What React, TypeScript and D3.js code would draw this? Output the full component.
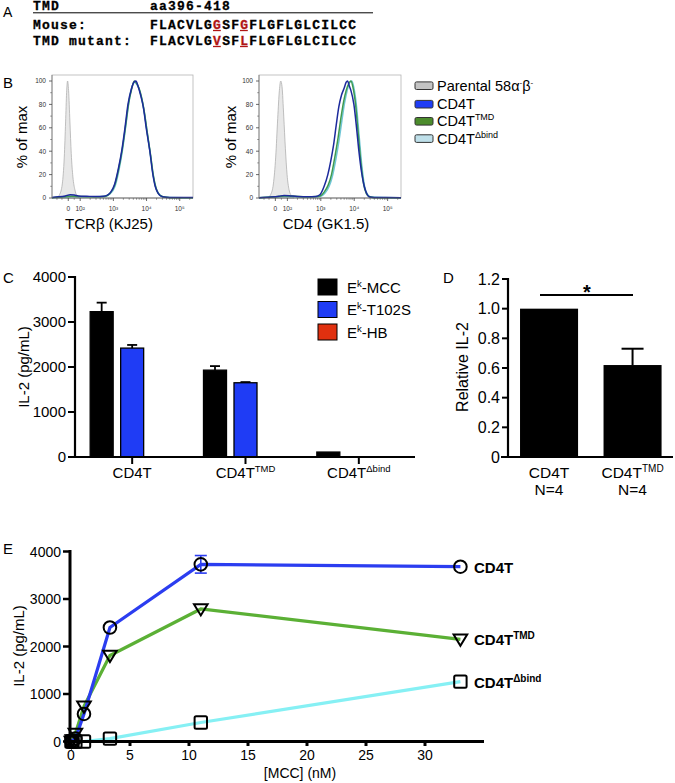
import React from 'react';
import * as d3 from 'd3';

const FONT = "'Liberation Sans', Arial, Helvetica, sans-serif";
const MONO = "'Liberation Mono', 'Courier New', monospace";

// ---------- Panel A data ----------
const seqHeaderLeft = "TMD";
const seqHeaderRight = "aa396-418";
const seqLabels = ["Mouse:", "TMD mutant:"];
const seqStrings = ["FLACVLGGSFGFLGFLGLCILCC", "FLACVLGVSFLFLGFLGLCILCC"];
const mutatedIdx = [7, 10];

// ---------- Panel B data (x in display decades, y in % of max) ----------
const histXTicks = [1.64, 2, 3, 4, 5];
const histXTickLabels = ["0", "10²", "10³", "10⁴", "10⁵"];
const histYTicks = [0, 20, 40, 60, 80, 100];
const tcrParental = [[1.28,0],[1.38,3],[1.46,12],[1.52,35],[1.56,65],[1.59,90],[1.62,100],[1.65,92],[1.69,65],[1.73,38],[1.78,18],[1.84,7],[1.9,2],[1.98,0]];
const tcrBlue = [[1.15,0.5],[1.35,1],[1.55,1.8],[1.7,2.8],[1.82,2.5],[1.95,1.8],[2.2,1.5],[2.5,1.2],[2.7,1.5],[2.82,2.5],[2.92,5],[3.04,12],[3.15,25],[3.25,40],[3.35,60],[3.44,80],[3.54,93],[3.62,99],[3.68,100],[3.74,96],[3.82,88],[3.9,78],[4.0,58],[4.1,40],[4.18,22],[4.26,10],[4.35,4],[4.48,1],[4.7,0.5],[5.4,0.4]];
const tcrGreen = [[1.15,0.3],[1.5,1],[1.75,1.5],[2.0,1.2],[2.4,1],[2.75,1.3],[2.9,4],[3.04,11],[3.16,25],[3.27,42],[3.37,62],[3.46,81],[3.55,93],[3.63,100],[3.7,98],[3.77,94],[3.85,86],[3.93,74],[4.02,56],[4.12,37],[4.2,20],[4.28,9],[4.38,3],[4.5,1],[4.7,0.3],[5.4,0.2]];
const tcrCyan = [[1.15,0.3],[1.5,0.8],[1.8,1.2],[2.2,1],[2.7,1.2],[2.9,3.5],[3.05,10],[3.17,24],[3.28,42],[3.38,63],[3.47,82],[3.56,95],[3.64,99],[3.71,97],[3.79,92],[3.87,83],[3.95,70],[4.04,52],[4.13,34],[4.21,18],[4.29,8],[4.4,2.5],[4.55,0.6],[5.4,0.2]];
const cd4Parental = [[1.4,0],[1.5,3],[1.58,12],[1.65,35],[1.71,68],[1.76,92],[1.8,100],[1.84,95],[1.89,70],[1.94,42],[1.99,20],[2.05,7],[2.12,2],[2.2,0]];
const cd4Blue = [[1.15,0.3],[1.5,0.8],[1.75,1.5],[1.9,2.2],[2.05,2],[2.3,1.2],[2.6,1],[2.85,1.3],[2.98,3],[3.1,10],[3.21,20],[3.3,32],[3.38,45],[3.46,62],[3.54,78],[3.62,88],[3.7,94],[3.76,99],[3.8,100],[3.85,96],[3.9,92],[3.99,80],[4.07,60],[4.14,40],[4.22,22],[4.3,10],[4.37,4],[4.44,1],[4.6,0.5],[5.4,0.3]];
const cd4Green = [[1.15,0.3],[1.6,1],[1.9,1.8],[2.2,1.5],[2.6,1],[2.9,1.2],[3.0,2],[3.1,5],[3.22,11],[3.32,20],[3.42,35],[3.52,52],[3.6,68],[3.68,82],[3.76,92],[3.84,98],[3.9,100],[3.96,95],[4.04,80],[4.12,55],[4.2,30],[4.28,12],[4.36,4],[4.46,1],[4.6,0.3],[5.4,0.2]];
const cd4Cyan = [[1.15,0.2],[1.6,0.8],[1.9,1.2],[2.3,1],[2.7,0.8],[3.0,1.5],[3.12,4],[3.25,10],[3.35,19],[3.45,33],[3.55,50],[3.63,66],[3.71,81],[3.79,92],[3.87,99],[3.93,100],[3.99,94],[4.07,78],[4.15,52],[4.23,27],[4.31,10],[4.4,3],[4.5,0.8],[5.4,0.2]];
const legendBNames = ["Parental 58α", "CD4T", "CD4T", "CD4T"];
const legendBSups = ["", "", "TMD", "Δbind"];
const legendBFill = ["#c4c4c4", "#1f3df5", "#4c8c2c", "#bfe0ea"];

// ---------- Panel C data ----------
const cGroups = ["CD4T", "CD4T", "CD4T"];
const cGroupSups = ["", "TMD", "Δbind"];
const cSeries = ["MCC", "T102S", "HB"];
const cColors = ["#000000", "#1f3cf5", "#e0300f"];
const cMcc = [3230, 1930, 110];
const cMccErr = [200, 90, 0];
const cT102s = [2420, 1650, 0];
const cT102sErr = [70, 15, 0];
const cHb = [0, 6, 0];
const cHbErr = [0, 0, 0];
const cYTicks = [0, 1000, 2000, 3000, 4000];

// ---------- Panel D data ----------
const dGroups = ["CD4T", "CD4T"];
const dGroupSups = ["", "TMD"];
const dN = ["N=4", "N=4"];
const dValues = [1.0, 0.62];
const dErr = [0, 0.11];
const dYTicks = [0, 0.2, 0.4, 0.6, 0.8, 1.0, 1.2];

// ---------- Panel E data ----------
const eConc = [0.04, 0.12, 0.37, 1.1, 3.3, 11, 33];
const eCd4t = [0, 20, 60, 580, 2400, 3730, 3680];
const eCd4tErr = [0, 0, 0, 0, 0, 185, 0];
const eTmd = [0, 30, 170, 740, 1810, 2790, 2150];
const eDbind = [0, 0, 0, 0, 60, 400, 1260];
const eXTicks = [0, 5, 10, 15, 20, 25, 30];
const eYTicks = [0, 1000, 2000, 3000, 4000];

function PanelA() {
  const x0 = 33, seqX = 150, adv = 9, fs = 13;
  const ls = adv - fs * 0.6;
  const rows = [28.5, 44.5];
  const common = { fontFamily: MONO, fontWeight: 'bold', fontSize: fs, letterSpacing: ls, stroke: '#000', strokeWidth: 0.3 } as any;
  return (
    <g>
      <text x={3} y={17} fontSize={14} fontFamily={FONT}>A</text>
      <text x={x0} y={9.5} {...common}>{seqHeaderLeft}</text>
      <text x={seqX} y={9.5} {...common}>{seqHeaderRight}</text>
      <line x1={x0} x2={373} y1={12.8} y2={12.8} stroke="#000" strokeWidth={1} />
      {seqStrings.map((s, r) => (
        <g key={r}>
          <text x={x0} y={rows[r]} {...common}>{seqLabels[r]}</text>
          <text x={seqX} y={rows[r]} {...common}>
            {s.split('').map((ch, i) => (
              <tspan key={i} fill={mutatedIdx.includes(i) ? '#b01515' : '#000'} stroke={mutatedIdx.includes(i) ? '#b01515' : '#000'}>{ch}</tspan>
            ))}
          </text>
          {mutatedIdx.map(i => (
            <line key={i} x1={seqX + i * adv} x2={seqX + i * adv + 7.8} y1={rows[r] + 2} y2={rows[r] + 2} stroke="#b01515" strokeWidth={1.3} />
          ))}
        </g>
      ))}
    </g>
  );
}

function Histogram({ x0, x1, parental, curves, xLabel, xLabelX, yLabelX }: any) {
  const yTop = 75, yBot = 198;
  const x = d3.scaleLinear().domain([1.15, 5.4]).range([x0, x1]);
  const y = d3.scaleLinear().domain([0, 100]).range([198, 81]);
  const area = d3.area<number[]>().x(d => x(d[0])).y0(y(0)).y1(d => y(d[1])).curve(d3.curveMonotoneX);
  const line = d3.line<number[]>().x(d => x(d[0])).y(d => y(d[1])).curve(d3.curveMonotoneX);
  const minorX: number[] = [];
  for (let dec = 2; dec <= 5; dec++) for (let k = 2; k <= 9; k++) {
    const v = dec + Math.log10(k);
    if (v < 5.4) minorX.push(v);
  }
  [1.3, 1.45, 1.82].forEach(v => minorX.push(v));
  const minorY = d3.range(10, 100, 20);
  return (
    <g>
      <rect x={x0} y={yTop} width={x1 - x0} height={yBot - yTop} fill="none" stroke="#b5b5b5" strokeWidth={0.8} />
      <path d={area(parental) || ''} fill="#e8e8e8" stroke="#b0b0b0" strokeWidth={0.8} />
      {curves.map((c: any, i: number) => (
        <path key={i} d={line(c.data) || ''} fill="none" stroke={c.color} strokeWidth={1.5} />
      ))}
      <line x1={x0} x2={x1} y1={yBot} y2={yBot} stroke="#555" strokeWidth={0.8} />
      <line x1={x0} x2={x0} y1={yTop} y2={yBot} stroke="#777" strokeWidth={0.8} />
      {histXTicks.map((t, i) => (
        <g key={i}>
          <line x1={x(t)} x2={x(t)} y1={yBot} y2={yBot + 3} stroke="#444" strokeWidth={0.8} />
          <text x={x(t)} y={211} fontSize={6.5} textAnchor="middle" fill="#333">{histXTickLabels[i]}</text>
        </g>
      ))}
      {minorX.map((t, i) => (
        <line key={'m' + i} x1={x(t)} x2={x(t)} y1={yBot} y2={yBot + 1.8} stroke="#555" strokeWidth={0.6} />
      ))}
      {histYTicks.map((t, i) => (
        <g key={i}>
          <line x1={x0 - 3} x2={x0} y1={y(t)} y2={y(t)} stroke="#444" strokeWidth={0.8} />
          <text x={x0 - 6} y={y(t) + 2.3} fontSize={6.5} textAnchor="end" fill="#333">{t}</text>
        </g>
      ))}
      {minorY.map((t, i) => (
        <line key={'my' + i} x1={x0 - 1.8} x2={x0} y1={y(t)} y2={y(t)} stroke="#555" strokeWidth={0.6} />
      ))}
      <text transform={`translate(${yLabelX},137) rotate(-90)`} fontSize={15} textAnchor="middle">% of max</text>
      <text x={xLabelX} y={229} fontSize={15} textAnchor="middle">{xLabel}</text>
    </g>
  );
}

function PanelB() {
  const lblX = 437, swX = 415;
  const rowsY = [85.7, 104.2, 121.3, 138.6];
  return (
    <g>
      <text x={3} y={88} fontSize={15}>B</text>
      <Histogram x0={52} x1={193} parental={tcrParental} xLabel="TCRβ (KJ25)" xLabelX={109} yLabelX={27}
        curves={[{ data: tcrCyan, color: '#6fc6d6' }, { data: tcrGreen, color: '#3f9a4f' }, { data: tcrBlue, color: '#1c2a9c' }]} />
      <Histogram x0={259} x1={401} parental={cd4Parental} xLabel="CD4 (GK1.5)" xLabelX={326} yLabelX={236}
        curves={[{ data: cd4Cyan, color: '#6fc6d6' }, { data: cd4Green, color: '#3f9a4f' }, { data: cd4Blue, color: '#1c2a9c' }]} />
      {legendBNames.map((n, i) => (
        <g key={i}>
          <rect x={swX} y={rowsY[i] - 3.8} width={18} height={7.6} rx={1.5} fill={legendBFill[i]} stroke="#333" strokeWidth={1} />
          <text x={lblX} y={rowsY[i] + 5} fontSize={14.5}>
            {n}
            {i === 0 ? (<><tspan fontSize={8} dy={-6}>-</tspan><tspan dy={6}>β</tspan><tspan fontSize={8} dy={-6}>-</tspan></>) : null}
            {legendBSups[i] ? <tspan fontSize={9} dy={-6}>{legendBSups[i]}</tspan> : null}
          </text>
        </g>
      ))}
    </g>
  );
}

function PanelC() {
  const y = d3.scaleLinear().domain([0, 4000]).range([457, 277]);
  const x0 = d3.scaleBand().domain(d3.range(cGroups.length).map(String)).range([75.5, 415.5]);
  const x1 = d3.scaleBand().domain(cSeries).range([-42, 42]).paddingInner(0.246);
  const vals = [cMcc, cT102s, cHb];
  const errs = [cMccErr, cT102sErr, cHbErr];
  const axisX = 75;
  return (
    <g>
      <text x={3} y={283} fontSize={15}>C</text>
      {cGroups.map((g, gi) => {
        const cx = (x0(String(gi)) as number) + x0.bandwidth() / 2;
        return (
          <g key={gi}>
            {cSeries.map((s, si) => {
              const v = vals[si][gi];
              const bx = cx + (x1(s) as number);
              const bw = x1.bandwidth();
              const e = errs[si][gi];
              return (
                <g key={si}>
                  {v > 0 && <rect x={bx} y={y(v)} width={bw} height={y(0) - y(v)} fill={cColors[si]} stroke="#000" strokeWidth={1.3} />}
                  {e > 0 && (
                    <g stroke="#000" strokeWidth={1.8}>
                      <line x1={bx + bw / 2} x2={bx + bw / 2} y1={y(v)} y2={y(v + e)} />
                      <line x1={bx + bw / 2 - 5} x2={bx + bw / 2 + 5} y1={y(v + e)} y2={y(v + e)} />
                    </g>
                  )}
                </g>
              );
            })}
            <line x1={cx} x2={cx} y1={457} y2={464} stroke="#000" strokeWidth={2} />
            <text x={cx} y={478} fontSize={15} textAnchor="middle">
              {g}{cGroupSups[gi] ? <tspan fontSize={9.5} dy={-6}>{cGroupSups[gi]}</tspan> : null}
            </text>
          </g>
        );
      })}
      <line x1={axisX} x2={axisX} y1={276} y2={458} stroke="#000" strokeWidth={2.2} />
      <line x1={68} x2={415} y1={457} y2={457} stroke="#000" strokeWidth={2.2} />
      {cYTicks.map(t => (
        <g key={t}>
          <line x1={68} x2={axisX} y1={y(t)} y2={y(t)} stroke="#000" strokeWidth={2} />
          <text x={66} y={y(t) + 5} fontSize={15} textAnchor="end">{t}</text>
        </g>
      ))}
      <text transform="translate(29,367) rotate(-90)" fontSize={15} textAnchor="middle">IL-2 (pg/mL)</text>
      {cSeries.map((s, i) => (
        <g key={s}>
          <rect x={318} y={279 + i * 22.5} width={19} height={16} fill={cColors[i]} stroke="#000" strokeWidth={1} />
          <text x={347} y={292.5 + i * 22.5} fontSize={15}>E<tspan fontSize={9.5} dy={-6}>k</tspan><tspan dy={6}>-{s}</tspan></text>
        </g>
      ))}
    </g>
  );
}

function PanelD() {
  const y = d3.scaleLinear().domain([0, 1.2]).range([457, 279]);
  const x = d3.scaleBand().domain(d3.range(dGroups.length).map(String)).range([508, 673.6]).paddingInner(0.305).paddingOuter(0.144);
  const axisX = 508;
  return (
    <g>
      <text x={443} y={283} fontSize={15}>D</text>
      {dValues.map((v, i) => {
        const bx = x(String(i)) as number;
        const bw = x.bandwidth();
        const cx = bx + bw / 2;
        return (
          <g key={i}>
            <rect x={bx} y={y(v)} width={bw} height={y(0) - y(v)} fill="#000" />
            {dErr[i] > 0 && (
              <g stroke="#000" strokeWidth={2}>
                <line x1={cx} x2={cx} y1={y(v)} y2={y(v + dErr[i])} />
                <line x1={cx - 11} x2={cx + 11} y1={y(v + dErr[i])} y2={y(v + dErr[i])} />
              </g>
            )}
            <text x={cx} y={478} fontSize={15.5} textAnchor="middle">
              {dGroups[i]}{dGroupSups[i] ? <tspan fontSize={10} dy={-6}>{dGroupSups[i]}</tspan> : null}
            </text>
            <text x={cx} y={495} fontSize={15.5} textAnchor="middle">{dN[i]}</text>
          </g>
        );
      })}
      <line x1={axisX} x2={axisX} y1={278} y2={458} stroke="#000" strokeWidth={2.2} />
      <line x1={501} x2={673} y1={457} y2={457} stroke="#000" strokeWidth={2.2} />
      {dYTicks.map(t => (
        <g key={t}>
          <line x1={502} x2={axisX} y1={y(t)} y2={y(t)} stroke="#000" strokeWidth={2} />
          <text x={500} y={y(t) + 5.5} fontSize={16} textAnchor="end">{t === 0 ? '0' : t.toFixed(1)}</text>
        </g>
      ))}
      <line x1={540} x2={633} y1={295} y2={295} stroke="#000" strokeWidth={2} />
      <text x={587} y={299} fontSize={20} fontWeight="bold" textAnchor="middle">*</text>
      <text transform="translate(468,367) rotate(-90)" fontSize={16} textAnchor="middle">Relative IL-2</text>
    </g>
  );
}

function Marker({ shape, cx, cy }: any) {
  if (shape === 'circle') return <circle cx={cx} cy={cy} r={6.3} fill="none" stroke="#000" strokeWidth={2} />;
  if (shape === 'tri') {
    const s = 6.8;
    return <path d={`M${cx - s},${cy - s * 0.7} L${cx + s},${cy - s * 0.7} L${cx},${cy + s * 0.95} Z`} fill="none" stroke="#000" strokeWidth={2} strokeLinejoin="miter" />;
  }
  return <rect x={cx - 6.2} y={cy - 6.2} width={12.4} height={12.4} rx={1.5} fill="none" stroke="#000" strokeWidth={2} />;
}

function PanelE() {
  const x = d3.scaleLinear().domain([0, 35]).range([71, 484]);
  const y = d3.scaleLinear().domain([0, 4000]).range([741.5, 551.5]);
  const series = [
    { vals: eDbind, color: '#86f0f4', shape: 'square', name: 'CD4T', sup: 'Δbind' },
    { vals: eTmd, color: '#5bb035', shape: 'tri', name: 'CD4T', sup: 'TMD' },
    { vals: eCd4t, color: '#2b3df0', shape: 'circle', name: 'CD4T', sup: '' },
  ];
  const line = d3.line<number>().x((_, i) => x(eConc[i])).y(d => y(d));
  return (
    <g>
      <text x={3} y={554} fontSize={15}>E</text>
      {series.map((s, si) => (
        <path key={si} d={line(s.vals) || ''} fill="none" stroke={s.color} strokeWidth={3.2} />
      ))}
      <g stroke="#2b3df0" strokeWidth={1.6}>
        {eCd4tErr.map((e, i) => e > 0 ? (
          <g key={i}>
            <line x1={x(eConc[i])} x2={x(eConc[i])} y1={y(eCd4t[i] - e)} y2={y(eCd4t[i] + e)} />
            <line x1={x(eConc[i]) - 6} x2={x(eConc[i]) + 6} y1={y(eCd4t[i] - e)} y2={y(eCd4t[i] - e)} />
            <line x1={x(eConc[i]) - 6} x2={x(eConc[i]) + 6} y1={y(eCd4t[i] + e)} y2={y(eCd4t[i] + e)} />
          </g>
        ) : null)}
      </g>
      {series.map((s, si) => (
        <g key={si}>
          {s.vals.map((v, i) => <Marker key={i} shape={s.shape} cx={x(eConc[i])} cy={y(v)} />)}
          <text x={474} y={y(s.vals[s.vals.length - 1]) + 6} fontSize={15} fontWeight="bold">
            {s.name}{s.sup ? <tspan fontSize={10} dy={-6}>{s.sup}</tspan> : null}
          </text>
        </g>
      ))}
      <line x1={70} x2={70} y1={550} y2={743} stroke="#000" strokeWidth={3} />
      <line x1={68.5} x2={484} y1={741.5} y2={741.5} stroke="#000" strokeWidth={3} />
      {eYTicks.map(t => (
        <g key={t}>
          <line x1={63} x2={70} y1={y(t)} y2={y(t)} stroke="#000" strokeWidth={2.5} />
          <text x={61} y={y(t) + 5} fontSize={14} textAnchor="end">{t}</text>
        </g>
      ))}
      {eXTicks.map(t => (
        <g key={t}>
          <line x1={x(t)} x2={x(t)} y1={741.5} y2={746} stroke="#000" strokeWidth={3} />
          <text x={x(t)} y={760} fontSize={14} textAnchor="middle">{t}</text>
        </g>
      ))}
      <text transform="translate(24,646) rotate(-90)" fontSize={15} textAnchor="middle">IL-2 (pg/mL)</text>
      <text x={300} y={778} fontSize={14} textAnchor="middle">[MCC] (nM)</text>
    </g>
  );
}

export default function App() {
  return (
    <svg width={675} height={783} style={{ position: 'absolute', left: 0, top: 0, background: '#fff' }} fontFamily={FONT}>
      <rect x={0} y={0} width={675} height={783} fill="#fff" />
      <PanelA />
      <PanelB />
      <PanelC />
      <PanelD />
      <PanelE />
    </svg>
  );
}
